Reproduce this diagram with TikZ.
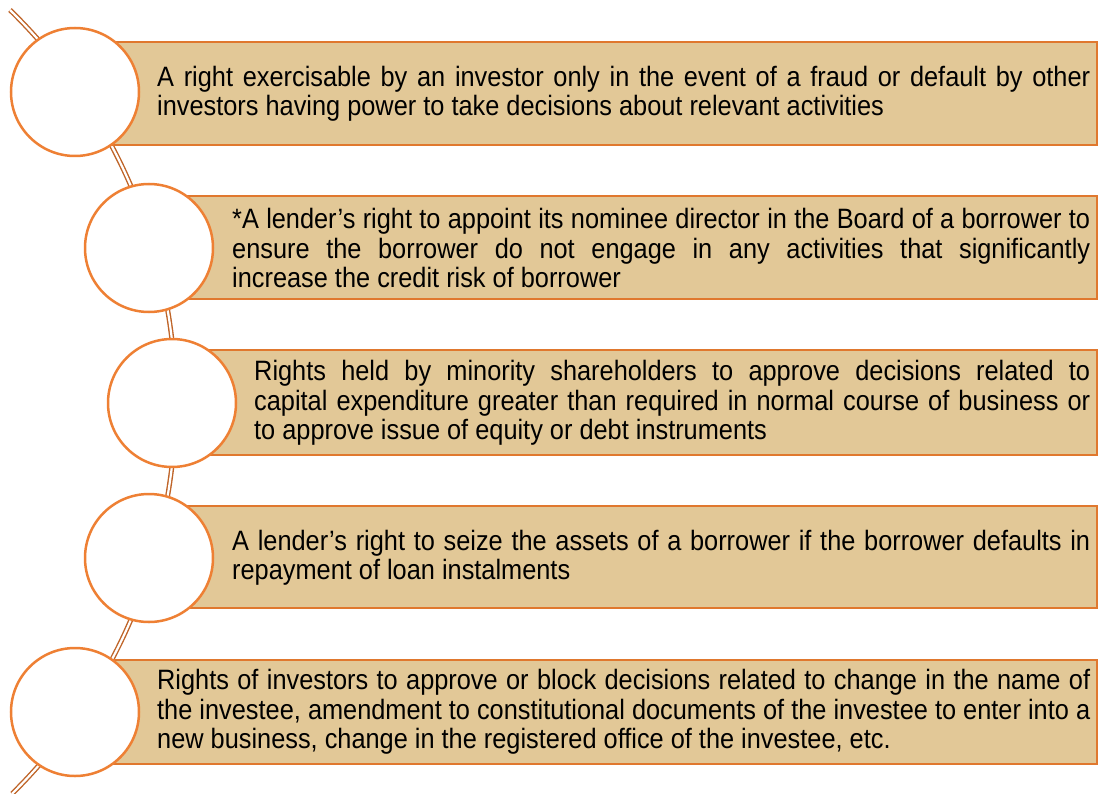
\documentclass[tikz,border=0pt]{standalone}
\usepackage{fontspec}
\setmainfont{Liberation Sans}[FakeStretch=0.905]
\hyphenpenalty=10000
\exhyphenpenalty=10000
\definecolor{boxfill}{HTML}{E2C897}
\definecolor{boxline}{HTML}{E0782E}
\definecolor{ringline}{HTML}{EE8034}
\definecolor{spine}{HTML}{BF6428}
\tikzset{
  panel/.style={fill=boxfill, draw=boxline, line width=2.5pt},
  ring/.style={circle, fill=white, draw=ringline, line width=2.5pt, minimum size=128pt, inner sep=0pt},
  txt/.style={anchor=west, align=justify, inner sep=0pt, font=\fontsize{28}{29.5}\selectfont},
  spineline/.style={draw=spine, line width=1.4pt, double=white, double distance=2.2pt},
}
\begin{document}
\begin{tikzpicture}[x=1pt,y=-1pt]
\useasboundingbox (0,0) rectangle (1099,794);
% spine
\coordinate (s0) at (10,10);
\draw[spineline] (s0) arc[start angle=45.7, end angle=-45.4, radius=549pt];
% boxes
\draw[panel] (110,42) rectangle (1097,145);
\draw[panel] (185,196) rectangle (1097,299);
\draw[panel] (205,350) rectangle (1097,455);
\draw[panel] (185,506) rectangle (1097,608);
\draw[panel] (110,660) rectangle (1097,764);
% circles
\node[ring] (c1) at (75,92) {};
\node[ring] (c2) at (149,248) {};
\node[ring] (c3) at (172,403) {};
\node[ring] (c4) at (149,558) {};
\node[ring] (c5) at (75,712) {};
% texts
\node[txt, text width=933pt] (t1) at (157,94) {A right exercisable by an investor only in the event of a fraud or default by other\linebreak investors having power to take decisions about relevant activities};
\node[txt, text width=858pt] (t2) at (232,248) {*A lender’s right to appoint its nominee director in the Board of a borrower to\linebreak ensure the borrower do not engage in any activities that significantly\linebreak increase the credit risk of borrower};
\node[txt, text width=836pt] (t3) at (254,403) {Rights held by minority shareholders to approve decisions related to\linebreak capital expenditure greater than required in normal course of business or\linebreak to approve issue of equity or debt instruments};
\node[txt, text width=858pt] (t4) at (232,558) {A lender’s right to seize the assets of a borrower if the borrower defaults in\linebreak repayment of loan instalments};
\node[txt, text width=933pt] (t5) at (157,712) {Rights of investors to approve or block decisions related to change in the name of\linebreak the investee, amendment to constitutional documents of the investee to enter into a\linebreak new business, change in the registered office of the investee, etc.};
\end{tikzpicture}
\end{document}
